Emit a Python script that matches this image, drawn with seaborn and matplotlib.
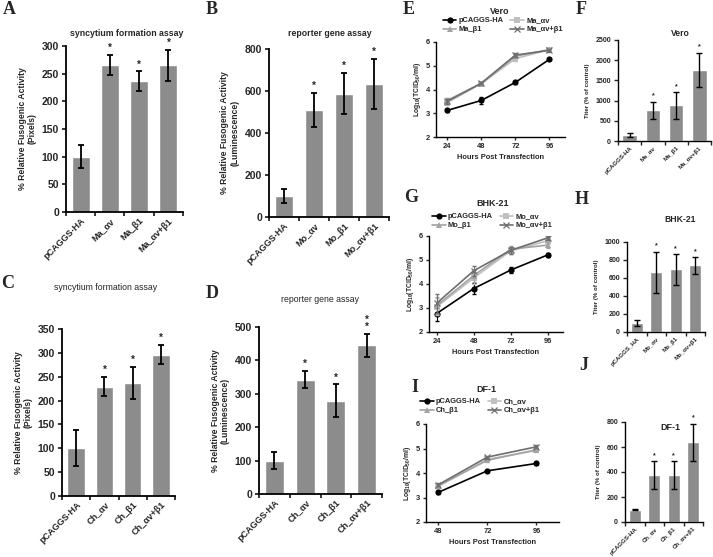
import numpy as np
import pandas as pd
import matplotlib
matplotlib.use('Agg')
import matplotlib.pyplot as plt
import seaborn as sns

W, H = 713, 557

# bar panels (A-D fusion assays, F/H/J titers)
a_labels = ['pCAGGS-HA', 'Ma_αv', 'Ma_β1', 'Ma_αv+β1']
a_vals = [100, 265, 236, 265]
a_err = [21, 18, 18, 28]

b_labels = ['pCAGGS-HA', 'Mo_αv', 'Mo_β1', 'Mo_αv+β1']
b_vals = [100, 510, 587, 633]
b_err = [33, 80, 97, 118]

c_labels = ['pCAGGS-HA', 'Ch_αv', 'Ch_β1', 'Ch_αv+β1']
c_vals = [100, 229, 237, 296]
c_err = [38, 20, 34, 20]

d_labels = ['pCAGGS-HA', 'Ch_αv', 'Ch_β1', 'Ch_αv+β1']
d_vals = [100, 342, 279, 445]
d_err = [25, 25, 49, 34]

f_labels = ['pCAGGS-HA', 'Ma_αv', 'Ma_β1', 'Ma_αv+β1']
f_vals = [155, 755, 886, 1755]
f_err = [55, 215, 330, 430]

h_labels = ['pCAGGS_HA', 'Mo_αv', 'Mo_β1', 'Mo_αv+β1']
h_vals = [100, 663, 696, 741]
h_err = [35, 230, 172, 93]

j_labels = ['pCAGGS-HA', 'Ch_αv', 'Ch_β1', 'Ch_αv+β1']
j_vals = [100, 376, 376, 640]
j_err = [4, 110, 110, 148]

stars = ['', '*', '*', '*']
d_stars = ['', '*', '*', '*\n*']

# growth curves (E, G, I)
e_hours = [24, 48, 72, 96]
e_names = ['pCAGGS-HA', 'Ma_αv', 'Ma_β1', 'Ma_αv+β1']
e_vals = [[3.12, 3.54, 4.30, 5.27], [3.45, 4.25, 5.30, 5.68],
          [3.55, 4.25, 5.40, 5.68], [3.50, 4.27, 5.45, 5.65]]
e_err = [[0.08, 0.15, 0.05, 0.04], [0.10, 0.05, 0.08, 0.06],
         [0.10, 0.05, 0.08, 0.05], [0.10, 0.05, 0.08, 0.05]]

g_hours = [24, 48, 72, 96]
g_names = ['pCAGGS-HA', 'Mo_αv', 'Mo_β1', 'Mo_αv+β1']
g_vals = [[2.77, 3.81, 4.58, 5.21], [3.05, 4.25, 5.38, 5.80],
          [3.10, 4.35, 5.45, 5.62], [3.20, 4.55, 5.40, 5.92]]
g_err = [[0.30, 0.22, 0.12, 0.08], [0.35, 0.25, 0.15, 0.15],
         [0.35, 0.25, 0.15, 0.12], [0.40, 0.20, 0.15, 0.08]]

i_hours = [48, 72, 96]
i_names = ['pCAGGS-HA', 'Ch_αv', 'Ch_β1', 'Ch_αv+β1']
i_vals = [[3.21, 4.09, 4.39], [3.45, 4.56, 4.92],
          [3.48, 4.52, 4.95], [3.52, 4.65, 5.07]]
i_err = [[0.08, 0.04, 0.05], [0.08, 0.06, 0.06],
         [0.06, 0.06, 0.06], [0.06, 0.06, 0.06]]

BAR = '#8c8c8c'
LINE_COLORS = ['#000000', '#c0c0c0', '#a3a3a3', '#6e6e6e']
MARKERS = ['o', 's', '^', 'x']

sns.set_style('ticks')
plt.rcParams['font.family'] = ['Liberation Sans', 'DejaVu Sans']
plt.rcParams['font.weight'] = 'bold'
plt.rcParams['axes.labelweight'] = 'bold'
plt.rcParams['mathtext.fontset'] = 'custom'
plt.rcParams['mathtext.rm'] = 'Liberation Sans:bold'
plt.rcParams['mathtext.it'] = 'Liberation Sans:bold'
plt.rcParams['mathtext.bf'] = 'Liberation Sans:bold'

fig = plt.figure(figsize=(W / 100, H / 100), dpi=100)


def px_axes(x0, y0, x1, y1):
    return fig.add_axes([x0 / W, 1 - y1 / H, (x1 - x0) / W, (y1 - y0) / H])


def px_text(x, y, s, **kw):
    fig.text(x / W, 1 - y / H, s, ha='center', va='center', **kw)


def style_axes(ax, lw):
    sns.despine(ax=ax)
    for sp in ['left', 'bottom']:
        ax.spines[sp].set_linewidth(lw)
        ax.spines[sp].set_color('black')


def bar_panel(ax, labels, vals, errs, ymax, ystep, marks, ylabel, tfs, lfs, xfs, sfs, lw=1.3):
    df = pd.DataFrame({'grp': labels, 'val': vals})
    sns.barplot(data=df, x='grp', y='val', color=BAR, saturation=1, width=0.62, ax=ax)
    n = len(vals)
    ax.errorbar(range(n), vals, yerr=errs, fmt='none', ecolor='black',
                elinewidth=lw, capsize=2, capthick=lw)
    for i, s in enumerate(marks):
        if s:
            ax.annotate(s, (i, vals[i] + errs[i]), xytext=(0, 1.5), textcoords='offset points',
                        ha='center', va='bottom', fontsize=sfs, linespacing=0.6)
    ax.set_ylim(0, ymax)
    ax.set_xlim(-0.5, n - 0.5)
    ax.set_yticks(np.arange(0, ymax + 1, ystep))
    ax.set_xticks(range(n))
    ax.set_xticklabels(labels, rotation=45, ha='right', rotation_mode='anchor', fontsize=xfs)
    ax.set_xticks(np.arange(-0.5, n), minor=True)
    ax.tick_params(axis='x', which='major', length=0, pad=3)
    ax.tick_params(axis='x', which='minor', length=3, width=lw, direction='out')
    ax.tick_params(axis='y', labelsize=tfs, length=3, width=lw, direction='out', pad=2)
    ax.set_xlabel('')
    ax.set_ylabel(ylabel, fontsize=lfs, linespacing=1.1)
    style_axes(ax, lw)


def line_panel(ax, hours, names, vals, errs, xlim, leg_xy, fs):
    for name, v, e, c, m in zip(names, vals, errs, LINE_COLORS, MARKERS):
        sns.lineplot(x=hours, y=v, color=c, marker=m, markersize=4.5, linewidth=1.2,
                     markeredgewidth=0.9 if m == 'x' else 0, markeredgecolor=c,
                     label=name, ax=ax)
        ax.errorbar(hours, v, yerr=e, fmt='none', ecolor=c, elinewidth=0.8, capsize=1.3)
    h, l = ax.get_legend_handles_labels()
    order = [0, 2, 1, 3]
    ax.legend([h[k] for k in order], [l[k] for k in order], ncol=2, frameon=False,
              fontsize=fs, loc='upper left', bbox_to_anchor=(leg_xy[0] / W, 1 - leg_xy[1] / H),
              bbox_transform=fig.transFigure, borderpad=0, borderaxespad=0,
              handlelength=1.8, handletextpad=0.3, labelspacing=0.25, columnspacing=0.9)
    ax.set_ylim(2, 6)
    ax.set_yticks([2, 3, 4, 5, 6])
    ax.set_xlim(*xlim)
    ax.set_xticks(hours)
    ax.tick_params(axis='both', labelsize=fs, length=2.5, width=1, direction='out', pad=2)
    ax.set_xlabel('Hours Post Transfection', fontsize=fs, labelpad=3)
    ax.set_ylabel(r'Log$_{10}$(TCID$_{50}$/ml)', fontsize=fs - 0.5, labelpad=2)
    style_axes(ax, 1.0)


ylab_px = '% Relative Fusogenic Activity\n(Pixels)'
ylab_lum = '% Relative Fusogenic Activity\n(Luminescence)'
ylab_tit = 'Titer (% of control)'

ax = px_axes(66, 46, 183, 212)
bar_panel(ax, a_labels, a_vals, a_err, 300, 50, stars, ylab_px, 7.5, 6.2, 6.5, 7)
ax = px_axes(269, 49, 389, 217)
bar_panel(ax, b_labels, b_vals, b_err, 800, 200, stars, ylab_lum, 7.5, 6.2, 6.5, 7)
ax = px_axes(62, 329, 175, 496)
bar_panel(ax, c_labels, c_vals, c_err, 350, 50, stars, ylab_px, 7.5, 6.2, 6.5, 7)
ax = px_axes(259, 327, 382, 494)
bar_panel(ax, d_labels, d_vals, d_err, 500, 100, d_stars, ylab_lum, 7.5, 6.2, 6.5, 7)

ax = px_axes(618, 40, 711, 141)
bar_panel(ax, f_labels, f_vals, f_err, 2500, 500, stars, ylab_tit, 5, 4.4, 4.4, 5, lw=1.0)
ax = px_axes(627, 242, 705, 332)
bar_panel(ax, h_labels, h_vals, h_err, 1000, 200, stars, ylab_tit, 5, 4.4, 4.4, 5, lw=1.0)
ax = px_axes(625, 422, 703, 522)
bar_panel(ax, j_labels, j_vals, j_err, 800, 200, stars, ylab_tit, 5, 4.4, 4.4, 5, lw=1.0)

ax = px_axes(436, 42, 565, 137)
line_panel(ax, e_hours, e_names, e_vals, e_err, (16, 107), (443, 17), 5.4)
ax = px_axes(429, 236, 563, 332)
line_panel(ax, g_hours, g_names, g_vals, g_err, (19, 106), (432, 213), 5.4)
ax = px_axes(426, 424, 559, 522)
line_panel(ax, i_hours, i_names, i_vals, i_err, (42, 107), (420, 398), 5.4)

# titles
px_text(127, 33, 'syncytium formation assay', fontsize=6.3)
px_text(330, 33, 'reporter gene assay', fontsize=6.3)
px_text(106, 287, 'syncytium formation assay', fontsize=6.3, fontweight='normal')
px_text(320, 300, 'reporter gene assay', fontsize=6.3, fontweight='normal')
px_text(500, 11, 'Vero', fontsize=6.5)
px_text(680, 33, 'Vero', fontsize=6.2)
px_text(493, 204, 'BHK-21', fontsize=6.5)
px_text(680, 220, 'BHK-21', fontsize=6.2)
px_text(486, 389, 'DF-1', fontsize=6.5)
px_text(670, 427, 'DF-1', fontsize=6.5)

# panel letters
letter = dict(fontsize=13, fontweight='bold', family=['Liberation Serif', 'DejaVu Serif'])
for s, x, y in [('A', 9, 10), ('B', 212, 9), ('C', 8, 284), ('D', 212, 293),
                ('E', 409, 9), ('F', 581, 10), ('G', 411, 197), ('H', 582, 200),
                ('I', 415, 388), ('J', 584, 366)]:
    px_text(x, y, s, **letter)

fig.savefig('out.png', dpi=100)
